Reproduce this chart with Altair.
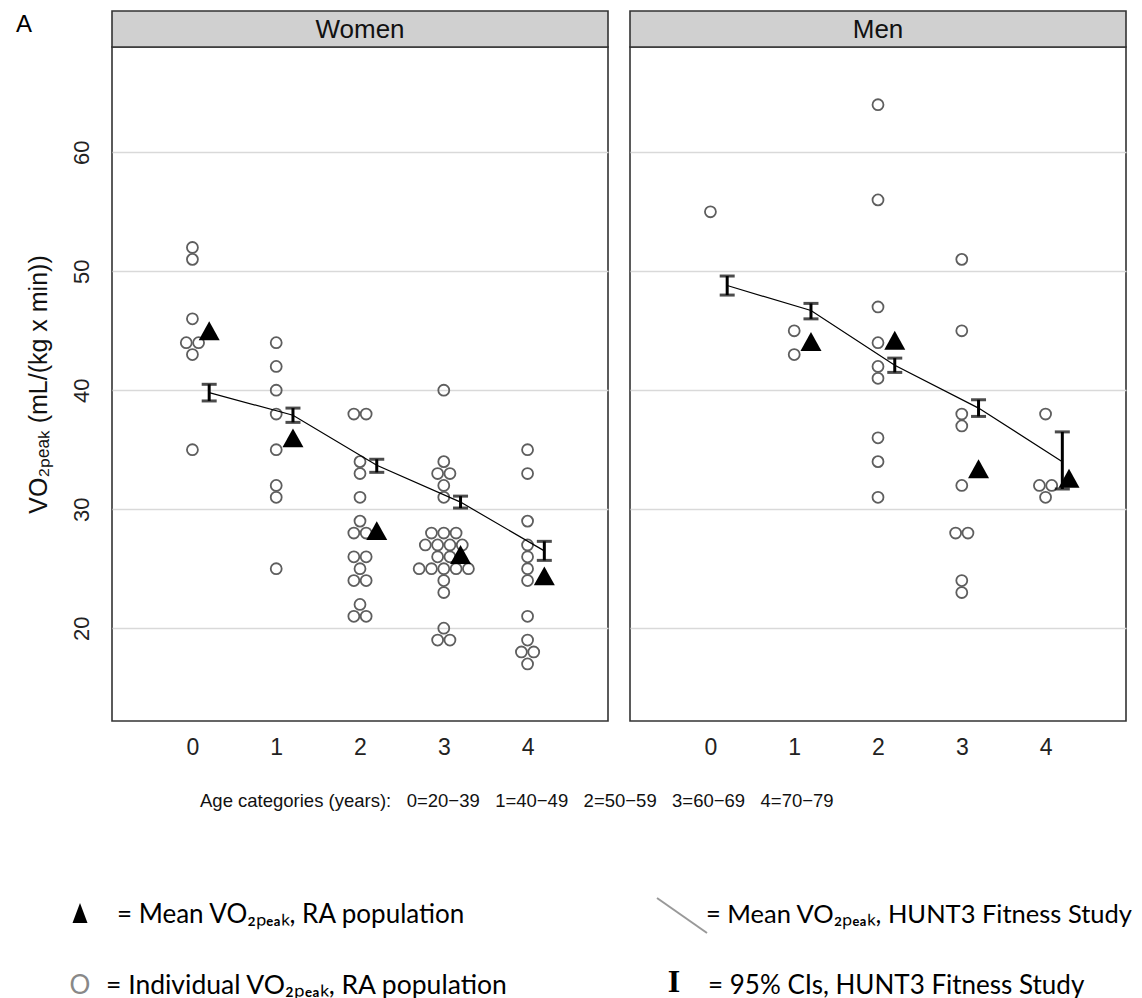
import altair as alt
import pandas as pd

# ---------------- data ----------------
cats = [0, 1, 2, 3, 4]
age_labels = ["0=20\u221239", "1=40\u221249", "2=50\u221259", "3=60\u221269", "4=70\u221279"]

# individual VO2peak, RA population
women_ind = [
    [52, 51, 46, 44, 44, 43, 35],
    [44, 42, 40, 38, 35, 32, 31, 25],
    [38, 38, 34, 33, 31, 29, 28, 28, 26, 26, 25, 24, 24, 22, 21, 21],
    [40, 34, 33, 33, 32, 31, 28, 28, 28, 27, 27, 27, 27, 26, 26,
     25, 25, 25, 25, 25, 24, 23, 20, 19, 19],
    [35, 33, 29, 27, 26, 25, 24, 21, 19, 18, 18, 17],
]
men_ind = [
    [55],
    [45, 43],
    [64, 56, 47, 44, 42, 41, 36, 34, 31],
    [51, 45, 38, 37, 32, 28, 28, 24, 23],
    [38, 32, 32, 31],
]

# mean VO2peak, RA population (triangles)
women_tri_x = [0.2, 1.2, 2.2, 3.2, 4.2]
women_tri_y = [45.0, 36.0, 28.2, 26.2, 24.4]
men_tri_x = [1.2, 2.2, 3.2, 4.28]
men_tri_y = [44.1, 44.2, 33.4, 32.6]

# HUNT3 Fitness Study mean and 95% CI
hunt_x = [0.2, 1.2, 2.2, 3.2, 4.2]
women_hunt_mean = [39.8, 37.9, 33.7, 30.6, 26.5]
women_hunt_lo = [39.1, 37.3, 33.1, 30.1, 25.7]
women_hunt_hi = [40.5, 38.5, 34.2, 31.1, 27.3]
men_hunt_mean = [48.8, 46.7, 42.1, 38.5, 34.0]
men_hunt_lo = [48.0, 46.0, 41.5, 37.8, 31.7]
men_hunt_hi = [49.6, 47.3, 42.7, 39.2, 36.5]

y_ticks = [20, 30, 40, 50, 60]

# ---------------- layout constants ----------------
W, H = 496, 674
DOT_STEP = 0.147           # horizontal step between tied dots (x units)
XS = alt.Scale(domain=[-0.96, 4.96], nice=False, zero=False)
YS = alt.Scale(domain=[12.2, 68.85], nice=False, zero=False)
FONT = "Liberation Sans"
LFONT = "Lato"
NB = "\u00a0"
SUB = "\u2082\u209a\u2091\u2090\u2096"


def ind_frame(groups):
    rows = []
    for c, vals in zip(cats, groups):
        counts = {}
        for v in vals:
            counts[v] = counts.get(v, 0) + 1
        for v, n in counts.items():
            for i in range(n):
                rows.append({"x": c + (i - (n - 1) / 2) * DOT_STEP, "v": v})
    return pd.DataFrame(rows)


def one():
    return pd.DataFrame({"a": [0]})


def label(text, x, y, size, align="left", color="black", font=LFONT, weight="normal"):
    return alt.Chart(one()).mark_text(
        text=text, fontSize=size, align=align, baseline="middle",
        color=color, font=font, fontWeight=weight
    ).encode(x=alt.value(x), y=alt.value(y))


def panel(name, ind, tri_x, tri_y, mean, lo, hi, left):
    if left:
        yaxis = alt.Axis(values=y_ticks, grid=True, gridColor="#d9d9d9", gridWidth=1.5,
                         domain=False, ticks=False, labelAngle=270, labelFontSize=22,
                         labelPadding=19, labelColor="#222",
                         title="VO" + SUB + " (mL/(kg x min))",
                         titleFontSize=25, titleFontWeight="normal", titlePadding=19,
                         titleColor="#111")
    else:
        yaxis = alt.Axis(values=y_ticks, grid=True, gridColor="#d9d9d9", gridWidth=1.5,
                         domain=False, ticks=False, labels=False, title=None)
    xaxis = alt.Axis(values=cats, grid=False, domain=False, ticks=False, format="d",
                     labelFontSize=23, labelPadding=15,
                     labelColor="#222", title=None)

    dots = alt.Chart(ind_frame(ind)).mark_point(
        shape="circle", filled=False, stroke="#5e5e5e", strokeWidth=1.8, size=120,
        opacity=1
    ).encode(x=alt.X("x:Q", scale=XS, axis=xaxis), y=alt.Y("v:Q", scale=YS, axis=yaxis))

    hunt = pd.DataFrame({"x": hunt_x, "v": mean, "lo": lo, "hi": hi})
    line = alt.Chart(hunt).mark_line(color="black", strokeWidth=1.2).encode(
        x="x:Q", y="v:Q")
    ci = alt.Chart(hunt).mark_rule(color="black", strokeWidth=3).encode(
        x="x:Q", y="lo:Q", y2="hi:Q")
    cap_lo = alt.Chart(hunt).mark_tick(color="black", thickness=3, size=15,
                                       orient="horizontal").encode(x="x:Q", y="lo:Q")
    cap_hi = alt.Chart(hunt).mark_tick(color="black", thickness=3, size=15,
                                       orient="horizontal").encode(x="x:Q", y="hi:Q")

    tri = alt.Chart(pd.DataFrame({"x": tri_x, "v": tri_y})).mark_point(
        shape="M-1,0.9L0,-0.9L1,0.9Z", filled=True, color="black", size=441, opacity=1
    ).encode(x="x:Q", y="v:Q")

    strip = alt.Chart(one()).mark_rect(fill="#d0d0d0", stroke="#333", strokeWidth=1.6).encode(
        x=alt.value(0), x2=alt.value(W), y=alt.value(-36), y2=alt.value(0))
    strip_txt = label(name, W / 2, -17, 26, align="center", font=FONT, color="#111")

    layers = [strip, strip_txt, dots, line, ci, cap_lo, cap_hi, tri]

    if left:
        age_txt = ("Age categories (years):" + NB * 2 + " " +
                   (NB * 2 + " ").join(age_labels))
        layers += [
            label("A", -88, -22, 24, align="center", font=FONT),
            label(age_txt, 88, 754, 18.5, font=FONT, color="#111"),
            # legend
            alt.Chart(one()).mark_point(shape="M-0.75,1L0,-1L0.75,1Z", filled=True,
                                        color="black", size=400, opacity=1).encode(
                x=alt.value(-32), y=alt.value(866)),
            label("= Mean VO" + SUB + ", RA population", 5, 868, 26),
            alt.Chart(one()).mark_rule(color="#999999", strokeWidth=2).encode(
                x=alt.value(545), x2=alt.value(595), y=alt.value(851), y2=alt.value(886)),
            label("= Mean VO" + SUB + ", HUNT3 Fitness Study", 594, 868, 25.5),
            label("O", -32, 939, 26, align="center", color="#888888"),
            label("= Individual VO" + SUB + ", RA population", -6, 939, 26.5),
            label("I", 562, 935, 32, align="center", font="Liberation Serif", weight="bold"),
            label("= 95% CIs, HUNT3 Fitness Study", 596, 939, 26),
        ]

    return alt.layer(*layers).properties(width=W, height=H)


left = panel("Women", women_ind, women_tri_x, women_tri_y,
             women_hunt_mean, women_hunt_lo, women_hunt_hi, True)
right = panel("Men", men_ind, men_tri_x, men_tri_y,
              men_hunt_mean, men_hunt_lo, men_hunt_hi, False)

chart = alt.hconcat(left, right, spacing=22, bounds="flush").properties(
    padding={"left": 7, "top": 1, "right": 0, "bottom": 0}
).configure(font=FONT).configure_view(stroke="#333333", strokeWidth=1.6)

chart.save("out.html", embed_options={"renderer": "svg", "actions": False})
